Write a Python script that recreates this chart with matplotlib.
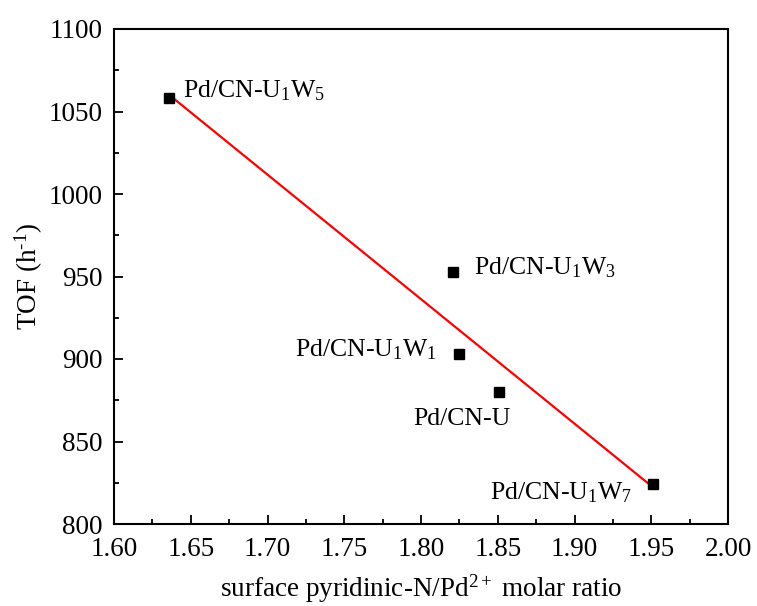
import numpy as np
import matplotlib
matplotlib.use("Agg")
import matplotlib.pyplot as plt
from matplotlib.ticker import MultipleLocator, FormatStrFormatter

plt.rcParams['font.family'] = ['Liberation Serif', 'DejaVu Serif']
plt.rcParams['mathtext.fontset'] = 'custom'
plt.rcParams['mathtext.rm'] = 'Liberation Serif'
plt.rcParams['mathtext.it'] = 'Liberation Serif'

# surface pyridinic-N / Pd2+ ratio vs TOF
ratio = [1.636, 1.821, 1.825, 1.851, 1.951]
tof = [1058, 953, 903, 880, 824]
names = ['Pd/CN-U$_1$W$_5$', 'Pd/CN-U$_1$W$_3$', 'Pd/CN-U$_1$W$_1$',
         'Pd/CN-U', 'Pd/CN-U$_1$W$_7$']

fig = plt.figure(figsize=(7.57, 6.06), dpi=100)
ax = fig.add_axes([114/757, 1 - 524/606, 614/757, 495/606])

# linear fit, drawn over the data range
k, b = np.polyfit(ratio, tof, 1)
xf = np.array([min(ratio), max(ratio)])
ax.plot(xf, k * xf + b, color='red', lw=1.6, zorder=2)
ax.plot(ratio, tof, 's', color='black', ms=7, zorder=3)

# label offsets in points (dx, dy, ha, va)
offs = [(10, 5.5, 'left', 'center'), (15, 3, 'left', 'center'),
        (-16.5, 3, 'right', 'center'), (-27, -11.5, 'center', 'top'),
        (-15, -6, 'right', 'center')]
for x, y, s, (dx, dy, ha, va) in zip(ratio, tof, names, offs):
    ax.annotate(s, (x, y), xytext=(dx, dy), textcoords='offset points',
                ha=ha, va=va, fontsize=18.5)

ax.set_xlim(1.60, 2.00)
ax.set_ylim(800, 1100)
ax.xaxis.set_major_locator(MultipleLocator(0.05))
ax.xaxis.set_minor_locator(MultipleLocator(0.025))
ax.yaxis.set_major_locator(MultipleLocator(50))
ax.yaxis.set_minor_locator(MultipleLocator(25))
ax.xaxis.set_major_formatter(FormatStrFormatter('%.2f'))
ax.tick_params(which='both', direction='in', labelsize=19.5, width=1.3)
ax.tick_params(axis='x', which='major', length=6.5, pad=9)
ax.tick_params(axis='y', which='major', length=6.5, pad=8)
ax.tick_params(which='minor', length=3.5)
for sp in ax.spines.values():
    sp.set_linewidth(1.5)

ax.set_xlabel('surface pyridinic-N/Pd$^{2+}$ molar ratio', fontsize=19.5, labelpad=8)
ax.set_ylabel('TOF (h$^{\u2010 1}$)', fontsize=19.5, labelpad=3)

fig.savefig('out.png', dpi=100)
